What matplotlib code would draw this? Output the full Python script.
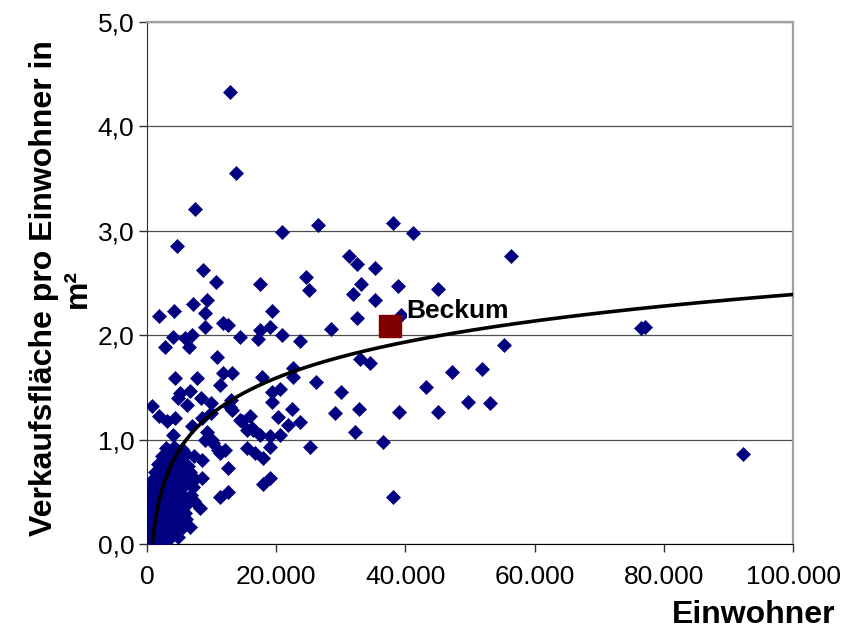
import numpy as np
import matplotlib.pyplot as plt
from matplotlib.ticker import FuncFormatter, MultipleLocator

plt.rcParams['font.family'] = ['Liberation Sans', 'DejaVu Sans']

# Gemeinden: Einwohner / Verkaufsflaeche pro Einwohner (m2)
einwohner = [
    12850, 13780, 7430, 4640, 20900, 26470, 38080, 41180, 31270, 32510,
    35290, 56350, 8670, 10680, 17490, 24610, 25080, 33130, 31890, 35290,
    38860, 45050, 1860, 4180, 7120, 9290, 8980, 19350, 32510, 39320,
    8980, 11770, 12540, 28480, 17490, 19040, 20900, 23680, 17180, 14400,
    55260, 76470, 77090, 92260, 4030, 2790, 5880, 6970, 6500, 10840,
    32970, 34520, 4330, 7740, 11770, 13160, 11300, 17800, 22600, 22600,
    26160, 47210, 51860, 43190, 30030, 19350, 20590, 5110, 6660, 4800,
    8360, 13000, 6190, 9910, 770, 1860, 3100, 4330, 6970, 8510,
    9910, 12850, 14400, 15480, 4030, 9290, 8980, 10060, 19350, 13160,
    22450, 14710, 15940, 20280, 21830, 23680, 16410, 17490, 19040, 20590,
    19040, 25230, 15480, 16720, 17960, 12540, 8510, 8510, 10220, 11300,
    19040, 17960, 12540, 11300, 29100, 32820, 39010, 45050, 49690, 53100,
    32200, 36530, 16250, 38080, 10990, 12070, 8200, 6660,
    # kleine Gemeinden
    460, 930, 1550, 2320, 3250,
    310, 1240, 2010, 2940, 3870, 4800,
    150, 770, 1700, 2630, 3560, 4490, 5570,
    460, 1390, 2320, 3250, 4180, 5110, 6040,
    310, 1080, 2010, 2940, 3870, 4800, 5880,
    620, 1550, 2480, 3410, 4330, 5260, 6350, 7280,
    150, 1080, 2010, 2940, 3870, 4800, 5730, 6810,
    460, 1550, 2480, 3410, 4490, 5420, 7120,
    770, 1860, 2790, 3870, 4950, 6040, 7430,
    1240, 2170, 3250, 4330, 5570, 6660,
    1700, 2790, 3870, 5110, 6350,
    2320, 3560, 4800, 6040, 7280,
    2940, 4180, 5420,
]
flaeche = [
    4.33, 3.55, 3.21, 2.85, 2.99, 3.06, 3.07, 2.98, 2.76, 2.68,
    2.64, 2.76, 2.62, 2.51, 2.49, 2.56, 2.43, 2.49, 2.39, 2.34,
    2.47, 2.44, 2.18, 2.23, 2.30, 2.34, 2.21, 2.23, 2.16, 2.19,
    2.08, 2.12, 2.10, 2.06, 2.05, 2.08, 2.00, 1.94, 1.96, 1.98,
    1.91, 2.07, 2.08, 0.86, 1.98, 1.89, 1.97, 2.00, 1.89, 1.79,
    1.77, 1.73, 1.59, 1.59, 1.64, 1.64, 1.52, 1.60, 1.69, 1.60,
    1.55, 1.65, 1.68, 1.50, 1.46, 1.46, 1.48, 1.45, 1.47, 1.40,
    1.40, 1.38, 1.33, 1.35, 1.32, 1.23, 1.18, 1.21, 1.13, 1.21,
    1.25, 1.31, 1.19, 1.09, 1.04, 1.07, 1.00, 1.00, 1.36, 1.28,
    1.29, 1.18, 1.23, 1.22, 1.14, 1.17, 1.09, 1.04, 1.03, 1.04,
    0.93, 0.93, 0.92, 0.87, 0.82, 0.73, 0.80, 0.63, 0.97, 0.87,
    0.63, 0.57, 0.50, 0.45, 1.25, 1.29, 1.26, 1.26, 1.36, 1.35,
    1.07, 0.98, 1.11, 0.45, 0.90, 0.90, 0.34, 0.16,
    0.03, 0.05, 0.02, 0.06, 0.04,
    0.09, 0.10, 0.08, 0.11, 0.09, 0.07,
    0.15, 0.16, 0.14, 0.17, 0.15, 0.13, 0.16,
    0.23, 0.24, 0.22, 0.25, 0.21, 0.23, 0.24,
    0.31, 0.30, 0.32, 0.29, 0.33, 0.31, 0.30,
    0.38, 0.39, 0.37, 0.40, 0.36, 0.38, 0.39, 0.41,
    0.46, 0.45, 0.47, 0.44, 0.48, 0.46, 0.45, 0.47,
    0.54, 0.55, 0.53, 0.56, 0.52, 0.54, 0.55,
    0.61, 0.62, 0.60, 0.63, 0.59, 0.61, 0.62,
    0.69, 0.70, 0.68, 0.71, 0.67, 0.69,
    0.77, 0.78, 0.76, 0.79, 0.75,
    0.84, 0.85, 0.83, 0.86, 0.84,
    0.92, 0.93, 0.91,
]
beckum_einwohner = 37620
beckum_flaeche = 2.09

# logarithmische Trendlinie y = a*ln(x) + b, Koeffizienten
trend_a = 0.497
trend_b = -3.332
trend_von, trend_bis = 850, 100000

x = np.array(einwohner, dtype=float)
y = np.array(flaeche)
xt = np.linspace(trend_von, trend_bis, 400)
yt = trend_a * np.log(xt) + trend_b

fig = plt.figure(figsize=(8.59, 6.31), dpi=100)
ax = fig.add_axes([0.1711, 0.1379, 0.7521, 0.8272])

ax.plot(x, y, 'D', color='#000080', ms=7.2, mec='#000080', mew=0.5, zorder=3)
ax.plot(xt, yt, color='black', lw=2.6, zorder=4)
ax.plot(beckum_einwohner, beckum_flaeche, 's', color='#800000', ms=16.5, zorder=5)
ax.annotate('Beckum', xy=(beckum_einwohner, beckum_flaeche), xytext=(12, 11),
            textcoords='offset points', ha='left', va='center',
            fontsize=19, fontweight='bold', zorder=6,
            bbox=dict(facecolor='white', edgecolor='none', pad=0))

ax.set_xlim(0, 100000)
ax.set_ylim(0, 5)
ax.xaxis.set_major_locator(MultipleLocator(20000))
ax.yaxis.set_major_locator(MultipleLocator(1))
ax.xaxis.set_major_formatter(FuncFormatter(lambda v, p: f"{int(v):,}".replace(',', '.')))
ax.yaxis.set_major_formatter(FuncFormatter(lambda v, p: f"{v:.1f}".replace('.', ',')))
ax.tick_params(axis='both', direction='out', length=6, width=1, labelsize=19, color='#303030')
ax.tick_params(axis='x', pad=9)
ax.tick_params(axis='y', pad=3)

ax.yaxis.grid(True, color='#505050', lw=0.9)
ax.set_axisbelow(True)

ax.spines['left'].set_color('#303030')
ax.spines['bottom'].set_color('black')
ax.spines['top'].set_color('#a0a0a0')
ax.spines['right'].set_color('#a0a0a0')
ax.spines['top'].set_linewidth(1.6)
ax.spines['right'].set_linewidth(1.6)

ax.set_xlabel('Einwohner', fontsize=23, fontweight='bold', ha='right', va='center')
ax.xaxis.set_label_coords(1.065, -0.136)
ax.set_ylabel('Verkaufsfläche pro Einwohner in\nm²', fontsize=23, fontweight='bold',
              va='center', linespacing=1.2)
ax.yaxis.set_label_coords(-0.133, 0.49)

fig.savefig('out.png', dpi=100)
